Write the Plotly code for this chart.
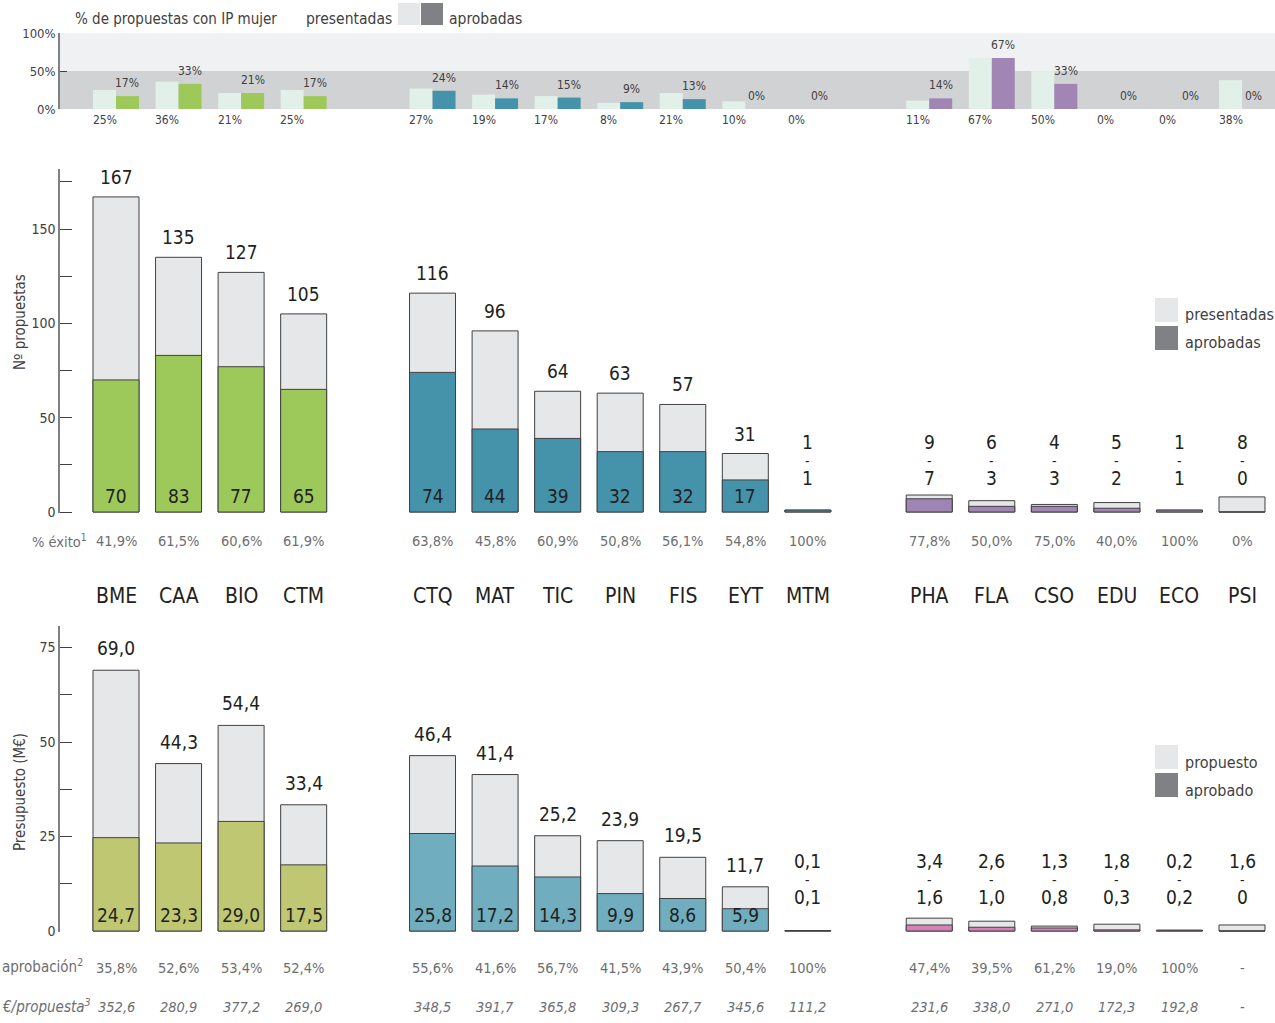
import plotly.graph_objects as go

################################################################################
# Datos

categorias = ["BME", "CAA", "BIO", "CTM", "CTQ", "MAT", "TIC", "PIN", "FIS",
              "EYT", "MTM", "PHA", "FLA", "CSO", "EDU", "ECO", "PSI"]
area = [0, 0, 0, 0, 1, 1, 1, 1, 1, 1, 1, 2, 2, 2, 2, 2, 2]

# % de propuestas con IP mujer
ip_presentadas = [25, 36, 21, 25, 27, 19, 17, 8, 21, 10, 0, 11, 67, 50, 0, 0, 38]
ip_aprobadas = [17, 33, 21, 17, 24, 14, 15, 9, 13, 0, 0, 14, 67, 33, 0, 0, 0]

# Nº propuestas
prop_presentadas = [167, 135, 127, 105, 116, 96, 64, 63, 57, 31, 1, 9, 6, 4, 5, 1, 8]
prop_aprobadas = [70, 83, 77, 65, 74, 44, 39, 32, 32, 17, 1, 7, 3, 3, 2, 1, 0]
exito = [41.9, 61.5, 60.6, 61.9, 63.8, 45.8, 60.9, 50.8, 56.1, 54.8, 100,
         77.8, 50.0, 75.0, 40.0, 100, 0]

# Presupuesto (M€)
pres_propuesto = [69.0, 44.3, 54.4, 33.4, 46.4, 41.4, 25.2, 23.9, 19.5, 11.7, 0.1,
                  3.4, 2.6, 1.3, 1.8, 0.2, 1.6]
pres_aprobado = [24.7, 23.3, 29.0, 17.5, 25.8, 17.2, 14.3, 9.9, 8.6, 5.9, 0.1,
                 1.6, 1.0, 0.8, 0.3, 0.2, 0]
aprobacion = [35.8, 52.6, 53.4, 52.4, 55.6, 41.6, 56.7, 41.5, 43.9, 50.4, 100,
              47.4, 39.5, 61.2, 19.0, 100, None]
euro_propuesta = [352.6, 280.9, 377.2, 269.0, 348.5, 391.7, 365.8, 309.3, 267.7,
                  345.6, 111.2, 231.6, 338.0, 271.0, 172.3, 192.8, None]

################################################################################
# Estilo

W, H = 1275, 1023
FONT = "Liberation Sans Narrow, DejaVu Sans Condensed, Arial Narrow, sans-serif"
DARK = "#231f20"
GREY_TXT = "#6d6e71"
AXIS = "#808184"
EDGE = "#414042"
PALE = "#e6e7e8"
col_ip = ["#9dc85a", "#4592ab", "#a085b5"]
col_prop = ["#9dc85a", "#4592ab", "#9f85b4"]
col_pres = ["#c0c772", "#70adbf", "#d682b6"]
ip_pale = "#e1f0e9"

n = len(categorias)
hueco = [0, 1.06, 2]                      # separación entre áreas
pos = [i + hueco[area[i]] for i in range(n)]
bw = 0.735


def py(px):
    return 1 - px / H


def fmt1(v, pct=False):
    if v is None:
        return "-"
    if v == 0 or v == 100:
        s = str(int(v))
    else:
        s = f"{v:.1f}".replace(".", ",")
    return s + ("%" if pct else "")


def fmtb(v):
    return "0" if v == 0 else f"{v:.1f}".replace(".", ",")


fig = go.Figure()

# --- franja superior: IP mujer
fig.add_trace(go.Bar(x=pos, y=ip_presentadas, width=bw / 2, offset=-bw / 2,
                     marker=dict(color=ip_pale, line=dict(width=0)),
                     xaxis="x", yaxis="y", showlegend=False))
fig.add_trace(go.Bar(x=pos, y=ip_aprobadas, width=bw / 2, offset=0,
                     marker=dict(color=[col_ip[a] for a in area], line=dict(width=0)),
                     xaxis="x", yaxis="y", showlegend=False))

# --- Nº propuestas
fig.add_trace(go.Bar(x=pos, y=prop_presentadas, width=bw,
                     marker=dict(color=PALE, line=dict(color=EDGE, width=1)),
                     xaxis="x2", yaxis="y2", showlegend=False))
fig.add_trace(go.Bar(x=pos, y=prop_aprobadas, width=bw,
                     marker=dict(color=[col_prop[a] for a in area], line=dict(color=EDGE, width=1)),
                     xaxis="x2", yaxis="y2", showlegend=False))

# --- Presupuesto
fig.add_trace(go.Bar(x=pos, y=pres_propuesto, width=bw,
                     marker=dict(color=PALE, line=dict(color=EDGE, width=1)),
                     xaxis="x3", yaxis="y3", showlegend=False))
fig.add_trace(go.Bar(x=pos, y=pres_aprobado, width=bw,
                     marker=dict(color=[col_pres[a] for a in area], line=dict(color=EDGE, width=1)),
                     xaxis="x3", yaxis="y3", showlegend=False))

ann = []


def txt(x, y, t, size, color=DARK, xref="x2", yref="paper", **kw):
    d = dict(x=x, y=y, text=t, xref=xref, yref=yref, showarrow=False,
             xanchor="center", yanchor="middle",
             font=dict(family=FONT, size=size, color=color))
    d.update(kw)
    ann.append(d)


# etiquetas franja superior
for i in range(n):
    txt(pos[i] + bw / 4, ip_aprobadas[i], f"{ip_aprobadas[i]}%", 12, EDGE,
        xref="x", yref="y", yanchor="bottom", yshift=4)
    txt(pos[i] - bw / 4, py(120), f"{ip_presentadas[i]}%", 12, EDGE, xref="x")

txt(73 / W, py(19), "% de propuestas con IP mujer", 15, EDGE, xref="paper", xanchor="left")
txt(394 / W, py(19), "presentadas", 15.5, EDGE, xref="paper", xanchor="right")
txt(447 / W, py(19), "aprobadas", 15.5, EDGE, xref="paper", xanchor="left")

# etiquetas Nº propuestas
for i in range(n):
    if prop_presentadas[i] >= 20:
        txt(pos[i], prop_presentadas[i], str(prop_presentadas[i]), 19,
            yref="y2", yanchor="bottom", yshift=7)
        txt(pos[i], 0, str(prop_aprobadas[i]), 19, yref="y2", yanchor="bottom", yshift=3)
    else:
        txt(pos[i], py(442), str(prop_presentadas[i]), 19)
        txt(pos[i], py(461), "-", 14)
        txt(pos[i], py(478), str(prop_aprobadas[i]), 19)
    txt(pos[i], py(541), fmt1(exito[i], True), 14.5, GREY_TXT)
    txt(pos[i], py(596), categorias[i], 21)

txt(30 / W, py(541), "% éxito<sup>1</sup>", 14.5, GREY_TXT, xref="paper", xanchor="left")
txt(20 / W, py(322), "Nº propuestas", 15, EDGE, xref="paper", textangle=-90)

# etiquetas presupuesto
for i in range(n):
    if pres_propuesto[i] >= 5:
        txt(pos[i], pres_propuesto[i], fmtb(pres_propuesto[i]), 19,
            xref="x3", yref="y3", yanchor="bottom", yshift=9)
        txt(pos[i], 0, fmtb(pres_aprobado[i]), 19, xref="x3", yref="y3",
            yanchor="bottom", yshift=3)
    else:
        txt(pos[i], py(861), fmtb(pres_propuesto[i]), 19, xref="x3")
        txt(pos[i], py(880), "-", 14, xref="x3")
        txt(pos[i], py(897), fmtb(pres_aprobado[i]), 19, xref="x3")
    txt(pos[i], py(968), fmt1(aprobacion[i], True), 14.5, GREY_TXT, xref="x3")
    txt(pos[i], py(1007), "<i>" + fmt1(euro_propuesta[i]) + "</i>", 14.5, GREY_TXT, xref="x3")

txt(0, py(966), "aprobación<sup>2</sup>", 15, GREY_TXT, xref="paper", xanchor="left")
txt(0, py(1006), "<i>€/propuesta<sup>3</sup></i>", 15, GREY_TXT, xref="paper", xanchor="left")
txt(20 / W, py(792), "Presupuesto (M€)", 15, EDGE, xref="paper", textangle=-90)

# leyendas
shapes = []


def box(x0, y0, x1, y1, color):
    shapes.append(dict(type="rect", xref="paper", yref="paper", x0=x0 / W, x1=x1 / W,
                       y0=py(y1), y1=py(y0), fillcolor=color, line=dict(width=0)))


box(398, 3, 420, 25, PALE)
box(421, 3, 443, 25, AXIS)
box(1155, 298, 1178, 322, PALE)
box(1155, 326, 1178, 350, AXIS)
box(1155, 745, 1178, 769, PALE)
box(1155, 773, 1178, 797, AXIS)
txt(1183 / W, py(315), "presentadas", 16, EDGE, xref="paper", xanchor="left")
txt(1183 / W, py(343), "aprobadas", 16, EDGE, xref="paper", xanchor="left")
txt(1183 / W, py(762), "propuesto", 16, EDGE, xref="paper", xanchor="left")
txt(1183 / W, py(790), "aprobado", 16, EDGE, xref="paper", xanchor="left")

# fondo franja superior
dom0 = 60 / W
shapes.append(dict(type="rect", xref="paper", yref="y", x0=dom0, x1=1, y0=0, y1=50,
                   fillcolor="#d1d2d4", line=dict(width=0), layer="below"))
shapes.append(dict(type="rect", xref="paper", yref="y", x0=dom0, x1=1, y0=50, y1=100,
                   fillcolor="#f0f1f2", line=dict(width=0), layer="below"))

xr = [-(116 - 60) / 62.56, 18 + (1275 - 1242) / 62.56]
xax = dict(domain=[dom0, 1], range=xr, visible=False, fixedrange=True)
yax_common = dict(showline=True, linecolor=AXIS, linewidth=1.5, ticks="inside",
                  tickcolor=EDGE, showgrid=False, zeroline=False, automargin=False,
                  fixedrange=True, tickfont=dict(family=FONT, size=14, color=EDGE))

fig.update_layout(
    width=W, height=H,
    margin=dict(l=0, r=0, t=0, b=0, pad=0, autoexpand=False),
    paper_bgcolor="white", plot_bgcolor="rgba(0,0,0,0)",
    barmode="overlay",
    xaxis=dict(xax, anchor="y"),
    xaxis2=dict(xax, anchor="y2"),
    xaxis3=dict(xax, anchor="y3"),
    yaxis=dict(yax_common, domain=[py(109), py(33)], range=[0, 100], anchor="x",
               tickvals=[0, 50, 100], ticktext=["0%", "50%", "100%"], ticklen=7,
               tickfont=dict(family=FONT, size=13, color=EDGE)),
    yaxis2=dict(yax_common, domain=[py(513), py(169)], range=[-0.53, 181.8], anchor="x2",
                tickvals=[0, 50, 100, 150], ticklen=12,
                minor=dict(ticks="inside", tickvals=[25, 75, 125, 175], ticklen=12,
                           tickcolor=EDGE)),
    yaxis3=dict(yax_common, domain=[py(932), py(626)], range=[-0.26, 80.7], anchor="x3",
                tickvals=[0, 25, 50, 75], ticklen=12,
                minor=dict(ticks="inside", tickvals=[12.5, 37.5, 62.5], ticklen=12,
                           tickcolor=EDGE)),
    annotations=ann,
    shapes=shapes,
)

fig.write_html("out.html", config={"displayModeBar": False},
               post_script="document.body.style.margin='0';")
